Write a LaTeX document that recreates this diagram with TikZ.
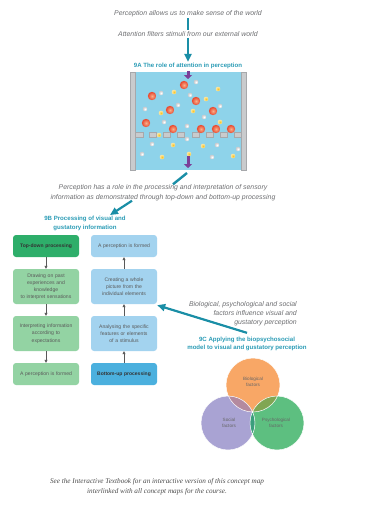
\documentclass[tikz,border=0pt]{standalone}
\usepackage{fontspec}
\setmainfont{Liberation Serif}
\setsansfont{Liberation Sans}
\usetikzlibrary{arrows.meta,calc}

\definecolor{tealA}{HTML}{1A8EA6}
\definecolor{tealT}{HTML}{2A9BB5}
\definecolor{capgray}{HTML}{6D6E71}
\definecolor{dgreen}{HTML}{2EAE6A}
\definecolor{lgreen}{HTML}{93D3A3}
\definecolor{lblue}{HTML}{A3D3EF}
\definecolor{mblue}{HTML}{4BB0DE}
\definecolor{boxtext}{HTML}{5A5A5A}
\definecolor{tankblue}{HTML}{8ED3EA}
\definecolor{wallfill}{HTML}{C9CBCD}
\definecolor{walledge}{HTML}{A6A8AB}
\definecolor{purp}{HTML}{7B3F98}
\definecolor{vorange}{HTML}{F8A766}
\definecolor{vpurple}{HTML}{A9A3D3}
\definecolor{vgreen}{HTML}{5DBF80}
\definecolor{vop}{HTML}{B48A9F}
\definecolor{vog}{HTML}{80A653}
\definecolor{vpg}{HTML}{3B9E7D}
\definecolor{vall}{HTML}{5E8C64}
\definecolor{ballred}{HTML}{E8452C}
\definecolor{ballhi}{HTML}{F9B08A}
\definecolor{ballyel}{HTML}{F6C630}
\definecolor{ballwht}{HTML}{C9CACD}

\newcommand\capfont{\sffamily\itshape\fontsize{6.9}{9.6}\selectfont}
\newcommand\ttlfont{\sffamily\bfseries\fontsize{6.1}{8.8}\selectfont}
\newcommand\boxfont{\sffamily\fontsize{5.1}{7.2}\selectfont}
\newcommand\boxbold{\sffamily\bfseries\fontsize{5.0}{7}\selectfont}
\newcommand\vennfont{\sffamily\fontsize{4.6}{6.2}\selectfont}
\newcommand\notefont{\rmfamily\itshape\fontsize{7.2}{10}\selectfont}

\tikzset{
  caption/.style={font=\capfont, text=capgray, align=center, inner sep=1pt},
  heading/.style={font=\ttlfont, text=tealT, align=center, inner sep=1pt},
  tealbar/.style={draw=tealA, line width=2.4pt},
  tealarrow/.style={draw=tealA, line width=2.2pt, -{Triangle[length=8pt,width=7pt]}},
  flowbox/.style={rounded corners=3pt, minimum width=66pt, text width=64pt,
    align=center, inner sep=1pt, font=\boxfont, text=boxtext},
  smallbox/.style={flowbox, minimum height=22pt},
  tallbox/.style={flowbox, minimum height=35pt},
  flowarrow/.style={draw=black!65, line width=0.6pt, -{Triangle[length=3pt,width=3pt]}},
  purparrow/.style={draw=purp, line width=3pt, -{Triangle[length=4pt,width=8pt]}},
  wall/.style={fill=wallfill, draw=walledge, line width=0.4pt},
  redball/.style={inner color=ballhi, outer color=ballred},
  yelball/.style={inner color=ballyel, outer color=ballyel!45!white},
  whtball/.style={inner color=white, outer color=ballwht},
  vennlabel/.style={font=\vennfont, text=black!60, align=center, inner sep=0pt},
}

\begin{document}
\begin{tikzpicture}[x=1pt,y=-1pt]
\useasboundingbox (0,0) rectangle (365,509);

% ---- opening statements
\node[caption] (allow) at (188,14) {Perception allows us to make sense of the world};
\node[caption] (filter) at (188,34) {Attention filters stimuli from our external world};
\draw[tealbar] (allow.south) -- (filter.north);
\node[heading] (t9a) at (188,66) {9A The role of attention in perception};
\draw[tealarrow] (filter.south) -- (t9a.north);

% ---- attention tank
\fill[tankblue] (135,72) rectangle (241,170);
\draw[wall] (130,72) rectangle (135,170);
\draw[wall] (241,72) rectangle (246,170);
% filter membrane
\draw[wall] (135,132) rectangle (143,137);
\foreach \x in {149,163,177,192,206,220} {
  \draw[wall] (\x,132) rectangle ++(7,5);
}
\draw[wall] (234,132) rectangle (241,137);

% stimuli
\foreach \p in {(184,85),(152,96),(196,101),(170,110),(213,111),(146,123),(173,129),(201,129),(216,129),(231,129)}
  \shade[redball] \p circle (4.2);
\foreach \p in {(218,89),(174,92),(206,99),(161,113),(193,111),(220,122),(159,135),(173,145),(203,146),(189,154),(162,157),(233,156)}
  \shade[yelball] \p circle (2.3);
\foreach \p in {(196,82),(161,93),(190,95),(220,106),(145,109),(178,105),(204,117),(164,122),(187,126),(187,139),(152,144),(217,145),(238,149),(142,154),(212,157)}
  \shade[whtball] \p circle (2.3);

\coordinate (tankin) at (188,71);
\coordinate (tankinend) at (188,79);
\draw[purparrow] (tankin) -- (tankinend);
\coordinate (tankout) at (188,156);
\coordinate (tankoutend) at (188,168);
\draw[purparrow] (tankout) -- (tankoutend);

% ---- processing statement
\node[caption] (proc) at (163,192.5) {Perception has a role in the processing and interpretation of sensory\\information as demonstrated through top-down and bottom-up processing};
\coordinate (tankbase) at (187,173);
\draw[tealbar] (tankbase) -- ($(proc.north)+(10,1)$);
\node[heading] (t9b) at (85,223.5) {9B Processing of visual and\\gustatory information};
\draw[tealarrow] ($(proc.south)+(-31,-1)$) -- ($(t9b.north)+(25,0)$);

% ---- top-down column
\node[smallbox, fill=dgreen, font=\boxbold, text=black!80] (L1) at (46,246) {Top-down processing};
\node[tallbox, fill=lgreen] (L2) at (46,286.5) {Drawing on past\\experiences and\\knowledge\\to interpret sensations};
\node[tallbox, fill=lgreen] (L3) at (46,333.5) {Interpreting information\\according to\\expectations};
\node[smallbox, fill=lgreen] (L4) at (46,374) {A perception is formed};
\draw[flowarrow] (L1) -- (L2);
\draw[flowarrow] (L2) -- (L3);
\draw[flowarrow] (L3) -- (L4);

% ---- bottom-up column
\node[smallbox, fill=lblue] (R1) at (124,246) {A perception is formed};
\node[tallbox, fill=lblue] (R2) at (124,286.5) {Creating a whole\\picture from the\\individual elements};
\node[tallbox, fill=lblue] (R3) at (124,333.5) {Analysing the specific\\features or elements\\of a stimulus};
\node[smallbox, fill=mblue, font=\boxbold, text=black!80] (R4) at (124,374) {Bottom-up processing};
\draw[flowarrow] (R4) -- (R3);
\draw[flowarrow] (R3) -- (R2);
\draw[flowarrow] (R2) -- (R1);

% ---- biopsychosocial model
\node[caption, align=right, anchor=east, font=\sffamily\itshape\fontsize{6.9}{9}\selectfont] (bps) at (298,314) {Biological, psychological and social\\factors influence visual and\\gustatory perception};
\node[heading, font=\sffamily\bfseries\fontsize{6.1}{8.2}\selectfont] (t9c) at (247,344) {9C Applying the biopsychosocial\\model to visual and gustatory perception};
\draw[tealarrow] ($(t9c.north)+(0,-3)$) -- ($(R2.south east)+(0,1)$);

% Venn diagram: base circles, then the overlaps in their own tints
\def\cbio{(253,385) circle (27)}
\def\csoc{(228,423) circle (27)}
\def\cpsy{(277,423) circle (27)}
\fill[vorange] \cbio;
\fill[vpurple] \csoc;
\fill[vgreen] \cpsy;
\begin{scope}
  \clip \cbio;
  \fill[vop] \csoc;
  \fill[vog] \cpsy;
\end{scope}
\begin{scope}
  \clip \csoc;
  \fill[vpg] \cpsy;
  \clip \cpsy;
  \fill[vall] \cbio;
\end{scope}
\draw[white, line width=0.5pt] \cbio \csoc \cpsy;
\node[vennlabel] (bio) at (253,382) {Biological\\factors};
\node[vennlabel] (soc) at (229,423) {Social\\factors};
\node[vennlabel] (psy) at (276,423) {Psychological\\factors};

% ---- closing note
\node[font=\notefont, text=black!70, align=center, inner sep=1pt] (note) at (157,486.5) {See the Interactive Textbook for an interactive version of this concept map\\interlinked with all concept maps for the course.};
\end{tikzpicture}
\end{document}
